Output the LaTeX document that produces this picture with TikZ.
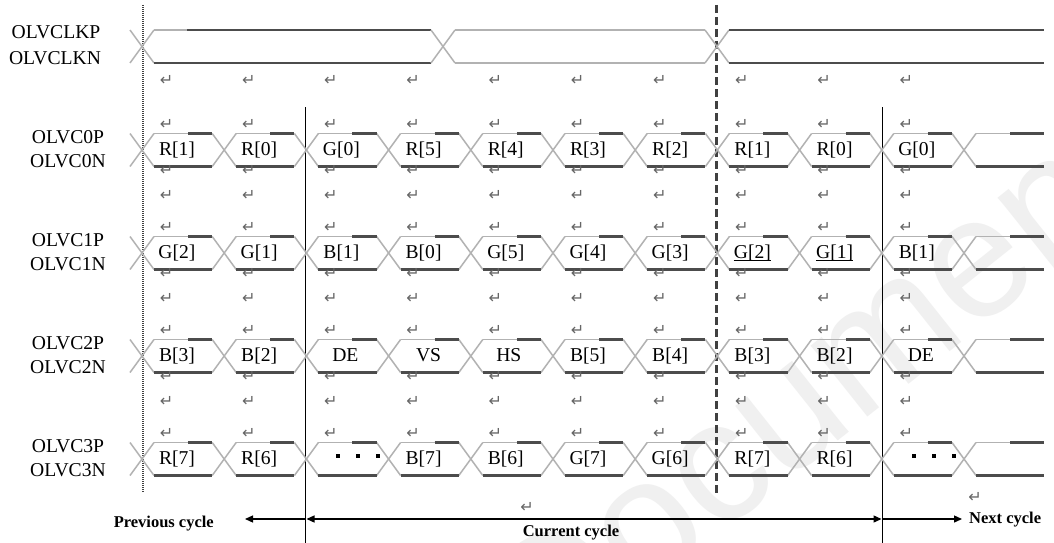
\documentclass[tikz,border=0pt]{standalone}
\usepackage{fontspec}
\setmainfont{Liberation Serif}
\newfontfamily\symfont{DejaVu Sans}
\newfontfamily\wmfont{Liberation Sans}
\usetikzlibrary{arrows.meta}
\newcommand\wavecells[1]{%
  \foreach \k in {0,...,10}{
    \pgfmathsetmacro\xa{142+82.2*\k}
    \draw[lt] (\xa-12,#1-16.5) -- (\xa+12,#1+16.5);
    \draw[lt] (\xa-12,#1+16.5) -- (\xa+12,#1-16.5);
  }
  \foreach \k in {0,...,9}{
    \pgfmathsetmacro\xa{142+82.2*\k}
    \draw[lt] (\xa+12,#1-16.5) -- (\xa+46,#1-16.5);
    \draw[dk] (\xa+46,#1-16.5) -- (\xa+70.2,#1-16.5);
    \draw[dk] (\xa+12,#1+16.5) -- (\xa+70.2,#1+16.5);
  }
  \draw[lt] (976,#1-16.5) -- (1010,#1-16.5);
  \draw[dk] (1010,#1-16.5) -- (1044,#1-16.5);
  \draw[dk] (976,#1+16.5) -- (1044,#1+16.5);
}
\begin{document}
\begin{tikzpicture}[x=1pt,y=-1pt,
  dk/.style={draw=black!70, line width=2.1pt},
  lt/.style={draw=black!30, line width=1.5pt},
  sig/.style={font=\fontsize{19.6}{20}\selectfont, inner sep=0pt},
  cell/.style={font=\fontsize{19.6}{20}\selectfont, inner sep=0pt, anchor=base},
  ret/.style={font=\symfont\fontsize{16}{16}\selectfont, text=black!60, inner sep=0pt},
  cyc/.style={font=\bfseries\fontsize{16.5}{17}\selectfont, inner sep=0pt},
  bar/.style={draw=black, line width=1.3pt},
  cycarrow/.style={draw=black, line width=1.3pt},
  tip/.tip={Triangle[length=8pt,width=7pt]},
]
\useasboundingbox (0,0) rectangle (1054,543);
\fill[white] (0,0) rectangle (1054,543);
% watermark
\node[rotate=38.5, text=black!6, font=\wmfont\fontsize{172}{172}\selectfont, inner sep=0pt] (wm) at (815,385) {Document};

% vertical markers
\draw[draw=black!75, line width=1.6pt, dash pattern=on 1pt off 1pt] (143,5) -- (143,493);
\draw[draw=black!75, line width=2.2pt, dash pattern=on 8pt off 4pt] (716.5,5) -- (716.5,493);
\draw[bar] (305.5,107) -- (305.5,543);
\draw[bar] (882.5,107) -- (882.5,543);

% clock
\draw[lt] (130,30) -- (154,63); \draw[lt] (130,63) -- (154,30);
\draw[lt] (154,30) -- (187,30);
\draw[dk] (187,30) -- (431,30);
\draw[dk] (154,63) -- (431,63);
\draw[lt] (431,30) -- (455,63); \draw[lt] (431,63) -- (455,30);
\draw[lt] (455,30) -- (705,30); \draw[lt] (455,63) -- (705,63);
\draw[lt] (705,30) -- (729,63); \draw[lt] (705,63) -- (729,30);
\draw[dk] (729,30) -- (1044,30); \draw[dk] (729,63) -- (1044,63);
\node[sig] (clkp) at (56,32) {OLVCLKP};
\node[sig] (clkn) at (55,58) {OLVCLKN};

% data rows
\wavecells{150}
\wavecells{253}
\wavecells{356}
\wavecells{459}
\foreach \rw/\c in {0/150,1/253,2/356,3/459}{
  \node[sig] (p\rw) at (68,\c-13) {OLVC\rw P};
  \node[sig] (n\rw) at (68,\c+11.5) {OLVC\rw N};
}
\foreach \t/\o [count=\i from 0] in {{R[1]}/35,{R[0]}/35,{G[0]}/35,{R[5]}/35,{R[4]}/35,{R[3]}/35,{R[2]}/35,{R[1]}/35,{R[0]}/35,{G[0]}/35}
  \node[cell] (a\i) at ({142+82.2*\i+\o},155.5) {\t};
\foreach \t/\o [count=\i from 0] in {{G[2]}/35,{G[1]}/35,{B[1]}/35,{B[0]}/35,{G[5]}/35,{G[4]}/35,{G[3]}/35,{G[2]}/35,{G[1]}/35,{B[1]}/35}
  \node[cell] (b\i) at ({142+82.2*\i+\o},258.5) {\t};
\foreach \t/\o [count=\i from 0] in {{B[3]}/35,{B[2]}/35,DE/39,VS/40,HS/38,{B[5]}/35,{B[4]}/35,{B[3]}/35,{B[2]}/35,DE/39}
  \node[cell] (c\i) at ({142+82.2*\i+\o},361.5) {\t};
\foreach \t/\i in {{R[7]}/0,{R[6]}/1,{B[7]}/3,{B[6]}/4,{G[7]}/5,{G[6]}/6,{R[7]}/7,{R[6]}/8}
  \node[cell] (d\i) at ({142+82.2*\i+35},464.5) {\t};
\foreach \k in {2,9}
  \foreach \d in {32,52,72}
    \fill ({142+82.2*\k+\d-2},454) rectangle +(4,4);
\draw[line width=0.9pt] ([yshift=-2pt]b7.base west) -- ([yshift=-2pt]b7.base east);
\draw[line width=0.9pt] ([yshift=-2pt]b8.base west) -- ([yshift=-2pt]b8.base east);

% return marks
\foreach \k in {0,...,9}{
  \pgfmathsetmacro\xr{166.5+82.2*\k}
  \node[ret] (rk\k) at (\xr,80) {↵};
  \foreach \c [count=\j] in {150,253,356}{
    \node[ret] (ra\k\j) at (\xr,\c-26) {↵};
    \node[ret] (rb\k\j) at (\xr,\c+20) {↵};
    \node[ret] (rc\k\j) at (\xr,\c+45) {↵};
  }
  \node[ret] (rd\k) at (\xr,433) {↵};
}
\node[ret] (rcur) at (527,507) {↵};
\node[ret] (rnext) at (975,497) {↵};

% cycle arrows
\coordinate (prevend) at (245,519);
\coordinate (cstart) at (305.5,519);
\coordinate (cend) at (882.5,519);
\coordinate (nextend) at (962,519);
\draw[cycarrow, -tip] (cstart) -- (prevend);
\draw[cycarrow, tip-tip] ([xshift=1pt]cstart) -- ([xshift=-1pt]cend);
\draw[cycarrow, -tip] (cend) -- (nextend);
\node[cyc, anchor=base east] (prev) at (214,527) {Previous cycle};
\node[cyc, anchor=base] (cur) at (571,536) {Current cycle};
\node[cyc, anchor=base west] (next) at (969,523) {Next cycle};
\end{tikzpicture}
\end{document}
